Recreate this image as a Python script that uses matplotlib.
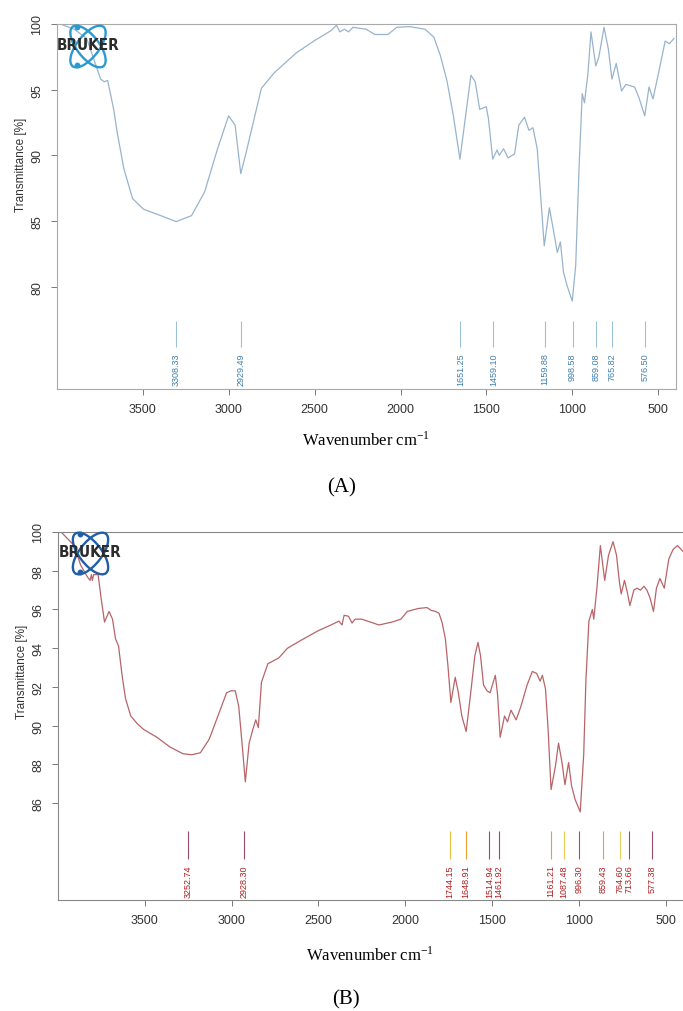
import numpy as np
import matplotlib
matplotlib.use("Agg")
import matplotlib.pyplot as plt
from matplotlib.patches import Ellipse

plt.rcParams["font.family"] = ["Liberation Sans", "DejaVu Sans"]
plt.rcParams["mathtext.fontset"] = "stix"

W, H = 683, 1012

# spectrum A (wavenumber, transmittance)
wn_a = [3980, 3900, 3827, 3746, 3725, 3705, 3670, 3649, 3611, 3560, 3497, 3395,
        3306, 3217, 3141, 3065, 3001, 2963, 2930, 2899, 2861, 2810, 2734, 2607,
        2505, 2404, 2373, 2353, 2327, 2302, 2277, 2200, 2149, 2073, 2022, 1946,
        1857, 1806, 1768, 1730, 1692, 1654, 1628, 1590, 1565, 1539, 1501, 1488,
        1463, 1438, 1425, 1400, 1374, 1336, 1311, 1278, 1252, 1229, 1204, 1183,
        1163, 1133, 1107, 1087, 1069, 1051, 1031, 1000, 980, 960, 942, 929, 909,
        891, 863, 845, 815, 790, 769, 744, 713, 688, 637, 612, 578, 553, 530,
        497, 459, 434, 408]
tr_a = [100.0, 99.6, 98.9, 95.8, 95.6, 95.7, 93.5, 91.7, 89.0, 86.7, 85.9, 85.4,
        84.95, 85.4, 87.2, 90.5, 93.0, 92.3, 88.6, 90.2, 92.3, 95.1, 96.3, 97.8,
        98.7, 99.5, 99.9, 99.4, 99.6, 99.4, 99.75, 99.6, 99.2, 99.2, 99.75, 99.8,
        99.6, 99.0, 97.6, 95.7, 93.0, 89.7, 92.3, 96.1, 95.6, 93.5, 93.7, 92.8,
        89.7, 90.4, 90.0, 90.5, 89.8, 90.1, 92.3, 92.9, 91.9, 92.1, 90.5, 86.7,
        83.1, 86.0, 84.1, 82.6, 83.4, 81.1, 80.1, 78.9, 81.6, 89.2, 94.7, 94.0,
        96.2, 99.4, 96.8, 97.5, 99.75, 98.1, 95.8, 97.0, 94.9, 95.4, 95.2, 94.4,
        93.0, 95.2, 94.3, 96.3, 98.7, 98.5, 98.9]

# spectrum B
wn_b = [3982, 3907, 3870, 3832, 3815, 3808, 3802, 3795, 3769, 3752, 3732, 3706,
        3686, 3669, 3651, 3631, 3611, 3581, 3543, 3506, 3430, 3355, 3280, 3230,
        3180, 3129, 3079, 3029, 3004, 2979, 2959, 2939, 2921, 2899, 2878, 2861,
        2846, 2828, 2791, 2728, 2678, 2602, 2502, 2427, 2382, 2364, 2352, 2327,
        2306, 2289, 2251, 2151, 2076, 2025, 1988, 1925, 1875, 1850, 1825, 1805,
        1787, 1769, 1754, 1737, 1712, 1694, 1674, 1649, 1624, 1599, 1581, 1566,
        1549, 1529, 1511, 1498, 1481, 1468, 1453, 1428, 1411, 1391, 1361, 1335,
        1298, 1268, 1243, 1223, 1210, 1192, 1177, 1160, 1135, 1117, 1097, 1080,
        1059, 1042, 1022, 992, 972, 959, 942, 922, 914, 896, 876, 851, 829, 803,
        783, 766, 756, 737, 721, 706, 683, 665, 645, 625, 608, 590, 570, 553,
        533, 508, 482, 457, 432, 400]
tr_b = [100.0, 99.3, 98.3, 97.7, 97.5, 97.8, 97.5, 97.8, 97.8, 96.6, 95.35, 95.9,
        95.5, 94.5, 94.1, 92.6, 91.4, 90.5, 90.1, 89.8, 89.4, 88.9, 88.55, 88.5,
        88.6, 89.3, 90.5, 91.7, 91.8, 91.8, 91.0, 89.0, 87.1, 89.1, 89.8, 90.3,
        89.9, 92.25, 93.2, 93.5, 94.0, 94.4, 94.9, 95.2, 95.4, 95.2, 95.7, 95.65,
        95.3, 95.5, 95.5, 95.2, 95.35, 95.5, 95.9, 96.05, 96.1, 95.95, 95.9, 95.8,
        95.3, 94.5, 93.1, 91.2, 92.5, 91.7, 90.5, 89.7, 91.6, 93.6, 94.3, 93.6,
        92.1, 91.8, 91.7, 92.1, 92.6, 91.6, 89.4, 90.5, 90.2, 90.8, 90.3, 90.96,
        92.1, 92.8, 92.7, 92.3, 92.6, 91.9, 89.8, 86.7, 87.9, 89.1, 88.1, 86.95,
        88.1, 86.9, 86.2, 85.55, 88.5, 92.4, 95.4, 96.0, 95.5, 97.1, 99.3, 97.5,
        98.8, 99.5, 98.8, 97.4, 96.8, 97.5, 96.9, 96.2, 97.0, 97.1, 97.0, 97.2,
        97.0, 96.6, 95.9, 97.1, 97.6, 97.1, 98.6, 99.1, 99.3, 99.0]

peaks_a = [3308.33, 2929.49, 1651.25, 1459.10, 1159.88, 998.58, 859.08, 765.82, 576.50]
peaks_b = [3252.74, 2928.30, 1744.15, 1648.91, 1514.94, 1461.92, 1161.21,
           1087.48, 996.30, 859.43, 764.60, 713.66, 577.38]
peak_colors_b = ["#9a4a6a", "#9a4a6a", "#e8c040", "#e8a030", "#9a4a6a", "#9a4a6a",
                 "#e8a040", "#e8c850", "#a05070", "#e0a040", "#e8d060", "#9a4a6a",
                 "#9a4a6a"]

fig = plt.figure(figsize=(W / 100, H / 100), dpi=100)


def px_axes(l, t, r, b):
    return fig.add_axes([l / W, 1 - b / H, (r - l) / W, (b - t) / H])


def draw_logo(l, t, r, b, ring):
    lg = px_axes(l, t, r, b)
    w, h = r - l, b - t
    lg.set_xlim(0, w)
    lg.set_ylim(0, h)
    lg.axis("off")
    cx, cy = w / 2, h / 2
    for ang in (52, -52):
        lg.add_patch(Ellipse((cx, cy), 50, 22, angle=ang, fill=False, lw=1.7, ec=ring))
    lg.plot([cx - 11, cx - 11], [h - 3, 4], "o", ms=3.2, color=ring)
    lg.text(cx, cy + 2, "BRUKER", ha="center", va="center", fontsize=11,
            fontweight="bold", color="#2b2b2b", family="DejaVu Sans",
            fontstretch="condensed")


def style_axes(ax, spine_col):
    for s in ax.spines.values():
        s.set_color(spine_col)
        s.set_linewidth(0.8)
    ax.tick_params(axis="both", colors="#777777", labelcolor="#333333",
                   labelsize=9, length=4, width=0.7)
    ax.tick_params(axis="y", pad=6)
    ax.tick_params(axis="x", pad=6)
    for lab in ax.get_yticklabels():
        lab.set_rotation(90)
        lab.set_va("center")


# ---- panel A ----
ax1 = px_axes(57, 25, 676, 390)
ax1.plot(wn_a, tr_a, color="#98b4cc", lw=0.9)
ax1.set_xlim(4000, 396)
ax1.set_ylim(72.2, 100)
ax1.set_xticks([3500, 3000, 2500, 2000, 1500, 1000, 500])
ax1.set_yticks([80, 85, 90, 95, 100])
style_axes(ax1, "#aaaaaa")
ax1.vlines(peaks_a, 75.4, 77.4, color="#9cc0da", lw=0.8)
for p in peaks_a:
    ax1.text(p, 75.0, f"{p:.2f}", rotation=90, ha="center", va="top",
             fontsize=6.5, color="#3f7fae")
fig.text(21 / W, 1 - 165 / H, "Transmittance [%]", rotation=90, ha="center",
         va="center", fontsize=8.5, color="#333333")
fig.text(366 / W, 1 - 440 / H, r"Wavenumber cm$^{\mathregular{-1}}$", ha="center",
         va="center", fontsize=12, family="Liberation Serif")
fig.text(342 / W, 1 - 488 / H, "(A)", ha="center", va="center", fontsize=15,
         family="Liberation Serif")
draw_logo(58, 25, 118, 70, "#2a9ad0")

# ---- panel B ----
ax2 = px_axes(58, 533, 683, 901)
ax2.plot(wn_b, tr_b, color="#b86468", lw=0.9)
ax2.set_xlim(4000, 400)
ax2.set_ylim(81.0, 100)
ax2.set_xticks([3500, 3000, 2500, 2000, 1500, 1000, 500])
ax2.set_yticks([86, 88, 90, 92, 94, 96, 98, 100])
style_axes(ax2, "#888888")
ax2.spines["right"].set_visible(False)
ax2.vlines(peaks_b, 83.1, 84.56, colors=peak_colors_b, lw=0.8)
for p in peaks_b:
    ax2.text(p, 82.85, f"{p:.2f}", rotation=90, ha="center", va="top",
             fontsize=6.5, color="#b01e1e")
fig.text(22 / W, 1 - 672 / H, "Transmittance [%]", rotation=90, ha="center",
         va="center", fontsize=8.5, color="#333333")
fig.text(370 / W, 1 - 955 / H, r"Wavenumber cm$^{\mathregular{-1}}$", ha="center",
         va="center", fontsize=12, family="Liberation Serif")
fig.text(346 / W, 1 - 1000 / H, "(B)", ha="center", va="center", fontsize=15,
         family="Liberation Serif")
draw_logo(60, 532, 121, 577, "#1f5fa8")

fig.savefig("out.png", dpi=100)
